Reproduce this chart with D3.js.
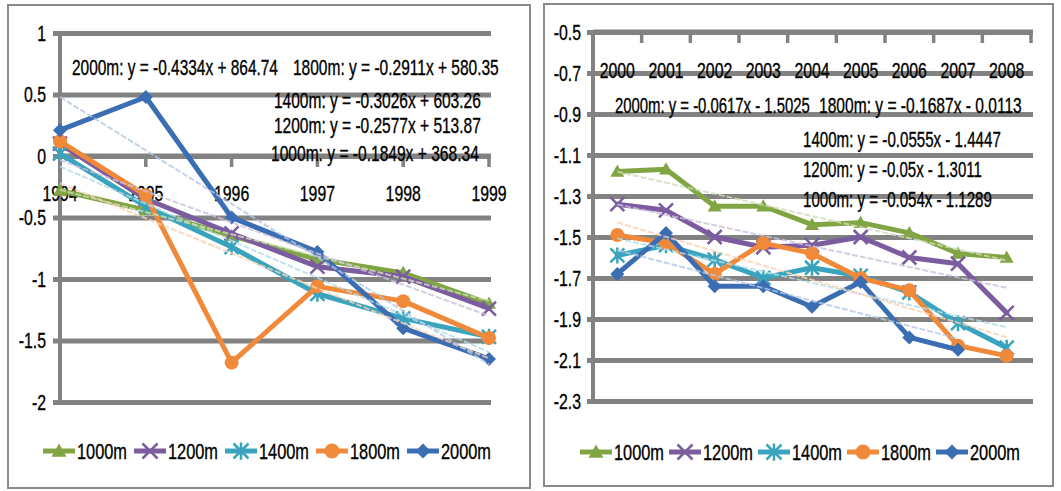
<!DOCTYPE html>
<html>
<head>
<meta charset="utf-8">
<script src="https://cdn.jsdelivr.net/npm/d3@7/dist/d3.min.js"></script>
<style>
  html, body { margin: 0; padding: 0; background: #fff; }
  svg { display: block; }
  text { font-family: "Liberation Sans", Arial, sans-serif; fill: #000; stroke: #000; stroke-width: 0.35px; }
</style>
</head>
<body>
<svg id="chart" width="1061" height="491"></svg>
<script>
// ---------------- DATA ----------------
const seriesNames = ["1000m", "1200m", "1400m", "1800m", "2000m"];

// Left panel (1994-1999)
const leftYears = ["1994", "1995", "1996", "1997", "1998", "1999"];
const left1000 = [-0.28, -0.44, -0.65, -0.84, -0.95, -1.20];
const left1200 = [0.10, -0.35, -0.63, -0.90, -0.98, -1.24];
const left1400 = [0.02, -0.41, -0.74, -1.12, -1.32, -1.47];
const left1800 = [0.12, -0.32, -1.68, -1.06, -1.18, -1.48];
const left2000 = [0.21, 0.48, -0.50, -0.78, -1.40, -1.65];
const leftTicks = [1, 0.5, 0, -0.5, -1, -1.5, -2];
const leftTickLabels = ["1", "0.5", "0", "-0.5", "-1", "-1.5", "-2"];
const leftEquations = [
  "2000m: y = -0.4334x + 864.74",
  "1800m: y = -0.2911x + 580.35",
  "1400m: y = -0.3026x + 603.26",
  "1200m: y = -0.2577x + 513.87",
  "1000m: y = -0.1849x + 368.34"
];

// Right panel (2000-2008)
const rightYears = ["2000", "2001", "2002", "2003", "2004", "2005", "2006", "2007", "2008"];
const right1000 = [-1.18, -1.17, -1.35, -1.35, -1.44, -1.43, -1.48, -1.58, -1.60];
const right1200 = [-1.34, -1.37, -1.50, -1.55, -1.54, -1.50, -1.60, -1.63, -1.87];
const right1400 = [-1.59, -1.54, -1.61, -1.70, -1.65, -1.69, -1.77, -1.92, -2.04];
const right1800 = [-1.49, -1.53, -1.68, -1.53, -1.58, -1.70, -1.76, -2.03, -2.08];
const right2000 = [-1.68, -1.48, -1.74, -1.74, -1.84, -1.72, -1.99, -2.05, null];
const rightTicks = [-0.5, -0.7, -0.9, -1.1, -1.3, -1.5, -1.7, -1.9, -2.1, -2.3];
const rightTickLabels = ["-0.5", "-0.7", "-0.9", "-1.1", "-1.3", "-1.5", "-1.7", "-1.9", "-2.1", "-2.3"];
const rightEquations = [
  "2000m: y = -0.0617x - 1.5025",
  "1800m: y = -0.1687x - 0.0113",
  "1400m: y = -0.0555x - 1.4447",
  "1200m: y = -0.05x - 1.3011",
  "1000m: y = -0.054x - 1.1289"
];

// ---------------- STYLE ----------------
const colors = ["#82A543", "#7A5C9F", "#3AA3BD", "#F0893A", "#3B6DB3"];
const markers = ["triangle", "x", "asterisk", "circle", "diamond"];
const gridColor = "#828282";
const fontSize = 22;
const squeezeFactor = 0.72;

const svg = d3.select("#chart");

// Draws horizontally condensed text using a scale transform.
// opts.width => exact target width; otherwise squeezeFactor.
function condensedText(parent, str, x, y, anchor, width) {
  const g = parent.append("g");
  const t = g.append("text").attr("x", 0).attr("y", 0).attr("dy", "0.36em")
    .attr("font-size", fontSize).text(str);
  const w = t.node().getComputedTextLength();
  const f = width ? width / w : squeezeFactor;
  const sw = w * f;
  const left = anchor === "middle" ? x - sw / 2 : anchor === "end" ? x - sw : x;
  g.attr("transform", `translate(${left},${y}) scale(${f},1)`);
  return g;
}

function markerPath(type, s) {
  const h = s / 2;
  switch (type) {
    case "triangle": return `M0,${-h}L${h},${h * 0.75}L${-h},${h * 0.75}Z`;
    case "diamond": return `M0,${-h}L${h},0L0,${h}L${-h},0Z`;
    case "x": return `M${-h},${-h}L${h},${h}M${-h},${h}L${h},${-h}`;
    case "asterisk": return `M${-h},${-h}L${h},${h}M${-h},${h}L${h},${-h}M0,${-h * 1.15}L0,${h * 1.15}`;
    default: return null;
  }
}

function drawMarker(g, type, color, x, y, s) {
  if (type === "circle") {
    g.append("circle").attr("cx", x).attr("cy", y).attr("r", s / 2).attr("fill", color);
  } else if (type === "x" || type === "asterisk") {
    g.append("path").attr("d", markerPath(type, s)).attr("transform", `translate(${x},${y})`)
      .attr("stroke", color).attr("stroke-width", 2.5).attr("fill", "none");
  } else {
    g.append("path").attr("d", markerPath(type, s)).attr("transform", `translate(${x},${y})`)
      .attr("fill", color);
  }
}

function regression(vals) {
  const pts = vals.map((v, i) => [i, v]).filter(p => p[1] !== null);
  const n = pts.length;
  const mx = d3.mean(pts, p => p[0]), my = d3.mean(pts, p => p[1]);
  const sxy = d3.sum(pts, p => (p[0] - mx) * (p[1] - my));
  const sxx = d3.sum(pts, p => (p[0] - mx) ** 2);
  const b = sxy / sxx, a = my - b * mx;
  return { a, b, i0: pts[0][0], i1: pts[n - 1][0] };
}

function lighten(c, k) {
  return d3.interpolateRgb(c, "#ffffff")(k);
}

function drawPanel(cfg) {
  const g = svg.append("g");
  // frame
  g.append("rect").attr("x", cfg.frame[0]).attr("y", cfg.frame[1])
    .attr("width", cfg.frame[2]).attr("height", cfg.frame[3])
    .attr("fill", "#fff").attr("stroke", "#8a8a8a").attr("stroke-width", 2);

  const y = d3.scaleLinear().domain(cfg.yDomain).range(cfg.yRange);
  const cx = cfg.xFn;

  // gridlines via axis (labels drawn separately)
  const yAxis = d3.axisLeft(y).tickValues(cfg.ticks)
    .tickSize(-(cfg.gridX1 - cfg.gridX0)).tickFormat("");
  const ga = g.append("g").attr("transform", `translate(${cfg.gridX0},0)`).call(yAxis);
  ga.select(".domain").remove();
  ga.selectAll(".tick line").attr("stroke", gridColor).attr("stroke-width", 5);
  ga.selectAll(".tick text").remove();
  cfg.ticks.forEach((tv, i) => condensedText(g, cfg.tickLabels[i], cfg.yLabelRight, y(tv), "end"));

  // vertical y-axis line
  g.append("line").attr("x1", cfg.axisX).attr("x2", cfg.axisX)
    .attr("y1", y(cfg.yDomain[0]) + 2).attr("y2", y(cfg.yDomain[1]) - 2)
    .attr("stroke", gridColor).attr("stroke-width", 4);

  // category axis
  const xa = g.append("g");
  xa.append("line").attr("x1", cfg.axisX).attr("x2", cfg.gridX1)
    .attr("y1", y(cfg.xAxisAt)).attr("y2", y(cfg.xAxisAt))
    .attr("stroke", gridColor).attr("stroke-width", 5);
  cfg.tickXs.forEach(tx => {
    xa.append("line").attr("x1", tx).attr("x2", tx)
      .attr("y1", y(cfg.xAxisAt)).attr("y2", y(cfg.xAxisAt) + 11)
      .attr("stroke", gridColor).attr("stroke-width", 3.5);
  });
  cfg.years.forEach(yr => condensedText(xa, yr, cx(yr), y(cfg.xAxisAt) + cfg.yearOffset, "middle"));

  // series lines + markers
  const line = d3.line().defined(d => d.v !== null).x(d => cx(d.c)).y(d => y(d.v));
  cfg.series.forEach((vals, si) => {
    const data = vals.map((v, i) => ({ c: cfg.years[i], v }));
    g.append("path").datum(data).attr("d", line).attr("fill", "none")
      .attr("stroke", colors[si]).attr("stroke-width", 5)
      .attr("stroke-linejoin", "round").attr("stroke-linecap", "round");
    const mg = g.append("g");
    data.filter(d => d.v !== null).forEach(d => drawMarker(mg, markers[si], colors[si], cx(d.c), y(d.v), 14));
  });

  // trendlines (least squares on the plotted values)
  cfg.series.forEach((vals, si) => {
    const r = regression(vals);
    g.append("line")
      .attr("x1", cx(cfg.years[r.i0])).attr("y1", y(r.a + r.b * r.i0))
      .attr("x2", cx(cfg.years[r.i1])).attr("y2", y(r.a + r.b * r.i1))
      .attr("stroke", lighten(colors[si], 0.62)).attr("stroke-width", 2)
      .attr("stroke-dasharray", "6,2").attr("opacity", 0.8);
  });

  // equations
  cfg.equations.forEach((eq, i) => {
    const p = cfg.eqPos[i];
    condensedText(g, eq, p[0], p[1], "start", p[2]);
  });

  // legend
  seriesNames.forEach((name, i) => {
    const lx = cfg.legendX + i * cfg.legendStep;
    const ly = cfg.legendY;
    const lg = g.append("g");
    lg.append("line").attr("x1", lx).attr("x2", lx + 32).attr("y1", ly).attr("y2", ly)
      .attr("stroke", colors[i]).attr("stroke-width", 5);
    drawMarker(lg, markers[i], colors[i], lx + 16, ly, 15);
    condensedText(lg, name, lx + 34, ly, "start", 50);
  });
}

// Left panel
const xLeft = d3.scalePoint().domain(leftYears).range([60, 489]);
drawPanel({
  frame: [8, 5, 522, 483],
  yDomain: [-2, 1], yRange: [402, 33],
  ticks: leftTicks, tickLabels: leftTickLabels,
  gridX0: 53, gridX1: 491, axisX: 60, yLabelRight: 46,
  xFn: d => xLeft(d), years: leftYears,
  tickXs: leftYears.map(d => xLeft(d)),
  xAxisAt: 0, yearOffset: 37,
  series: [left1000, left1200, left1400, left1800, left2000],
  equations: leftEquations,
  eqPos: [[72, 67, 206], [293, 67, 206], [274, 100, 207], [274, 125, 207], [271, 153, 208]],
  legendX: 43, legendY: 451, legendStep: 91
});

// Right panel
const xRight = d3.scaleBand().domain(rightYears).range([593, 1031]);
drawPanel({
  frame: [544, 4, 509, 482],
  yDomain: [-2.3, -0.5], yRange: [401, 32],
  ticks: rightTicks, tickLabels: rightTickLabels,
  gridX0: 587, gridX1: 1033, axisX: 593, yLabelRight: 581,
  xFn: d => xRight(d) + xRight.bandwidth() / 2, years: rightYears,
  tickXs: rightYears.map(d => xRight(d)).concat([xRight.range()[1]]),
  xAxisAt: -0.5, yearOffset: 38,
  series: [right1000, right1200, right1400, right1800, right2000],
  equations: rightEquations,
  eqPos: [[615, 105, 195], [819, 105, 203], [803, 139, 198], [803, 169, 179], [803, 199, 189]],
  legendX: 580, legendY: 452, legendStep: 89
});
</script>
</body>
</html>
